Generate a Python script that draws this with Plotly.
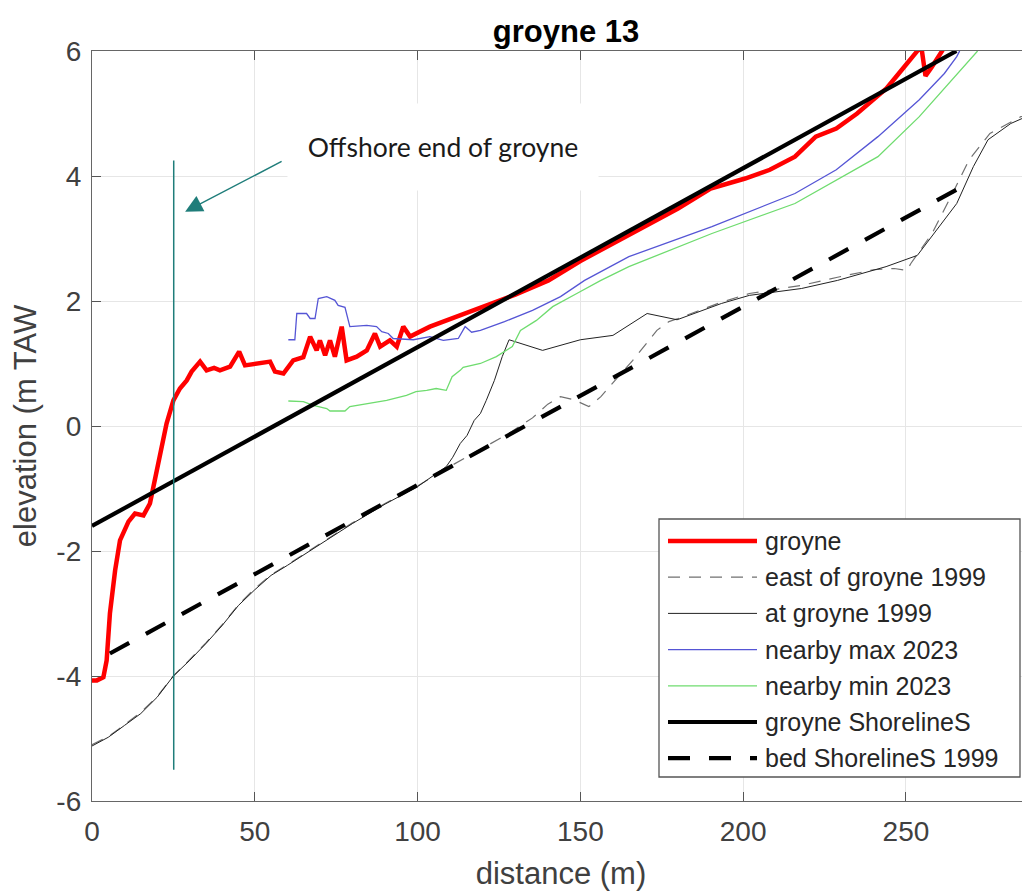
import plotly.graph_objects as go

# ---------------- data ----------------
GROYNE_X = [0, 1.5, 3.5, 4.5, 5.5, 7.1, 8.6, 11.2, 13.2, 15.8, 17.8, 19.3, 20.9, 22.9, 25.0,
            27.0, 29.1, 30.6, 33.2, 35.2, 37.5, 39.3, 42.4, 45.2, 47.0, 50.6, 54.7, 56.2, 58.8,
            61.8, 64.9, 67.0, 69.0, 70.0, 71.6, 73.1, 74.6, 76.7, 78.2, 81.3, 84.4, 86.9, 88.5,
            91.5, 93.6, 95.6, 97.7, 103.8, 108.9, 119.2, 130, 140.2, 150, 160, 170, 180, 190,
            200.6, 208.2, 215.9, 222.3, 228.6, 235.0, 241.4, 244, 247.8, 251.5, 253.5, 254.5,
            255.3, 256.0, 258.0, 261.1, 263.0]
GROYNE_Y = [-4.07, -4.07, -4.02, -3.75, -3.0, -2.31, -1.83, -1.53, -1.40, -1.43, -1.24, -0.87,
            -0.49, 0.04, 0.41, 0.60, 0.73, 0.87, 1.03, 0.89, 0.93, 0.89, 0.95, 1.19, 0.97, 1.00,
            1.03, 0.87, 0.84, 1.05, 1.10, 1.43, 1.21, 1.37, 1.13, 1.37, 1.11, 1.59, 1.05, 1.11,
            1.21, 1.48, 1.27, 1.37, 1.27, 1.59, 1.43, 1.59, 1.69, 1.90, 2.10, 2.33, 2.64, 2.92,
            3.20, 3.48, 3.80, 3.96, 4.10, 4.31, 4.63, 4.76, 5.00, 5.27, 5.40, 5.64, 5.86, 6.0,
            6.15, 5.9, 5.6, 5.75, 6.0, 6.2]

EAST_X = [0, 5, 10, 15, 20, 25, 30, 35, 40, 45, 50, 55, 60, 70, 80, 90, 100, 108.8, 115, 122,
          128, 135.3, 140, 143.9, 148, 152.6, 156.3, 161, 166.1, 173.5, 177.2, 180, 193.3, 201.9,
          217.9, 229, 240, 246.4, 250.3, 251.5, 258, 264.3, 269.4, 275.8, 279.6, 285.3, 288.3]
EAST_Y = [-5.10, -4.97, -4.78, -4.58, -4.33, -4.0, -3.74, -3.47, -3.18, -2.86, -2.60, -2.38,
          -2.22, -1.89, -1.55, -1.24, -0.96, -0.68, -0.50, -0.30, -0.12, 0.13, 0.35, 0.47, 0.42,
          0.31, 0.47, 0.75, 1.05, 1.53, 1.67, 1.72, 1.98, 2.12, 2.25, 2.38, 2.50, 2.52, 2.49,
          2.60, 3.08, 3.72, 4.26, 4.68, 4.79, 4.95, 4.98]

AT_X = [0, 5, 10, 15, 20, 25, 30, 35, 40, 45, 50, 55, 60, 70, 80, 90, 100, 108.8, 110.8, 113.1,
        115.2, 117.4, 119.3, 121.1, 123.6, 126.0, 128.1, 138.4, 150, 160.0, 170.5, 179.7, 193.3,
        201.9, 217.9, 229, 243.9, 253.5, 259.2, 265.6, 270.7, 275.2, 282.2, 288.3]
AT_Y = [-5.12, -4.98, -4.79, -4.60, -4.34, -4.0, -3.75, -3.48, -3.19, -2.87, -2.62, -2.39, -2.23,
        -1.90, -1.56, -1.25, -0.97, -0.65, -0.50, -0.28, -0.15, 0.09, 0.20, 0.41, 0.73, 1.11,
        1.38, 1.21, 1.38, 1.45, 1.80, 1.70, 1.96, 2.09, 2.20, 2.33, 2.55, 2.73, 3.13, 3.56, 4.15,
        4.58, 4.84, 4.98]

MAX_X = [60.3, 62.3, 62.9, 65.9, 67.0, 68.5, 69.5, 72.1, 74.6, 75.6, 77.7, 79.2, 84.4, 87.4, 89.0,
         91.0, 92.5, 98.7, 103.8, 107.9, 112.5, 114.6, 116.6, 119.3, 126.7, 135.3, 143.9, 151.3,
         164.9, 190.4, 215.9, 228.6, 241.4, 254.1, 261.8, 265.6, 266.5]
MAX_Y = [1.38, 1.38, 1.80, 1.80, 1.72, 1.72, 2.04, 2.07, 2.01, 1.93, 1.90, 1.59, 1.61, 1.59, 1.51,
         1.48, 1.40, 1.38, 1.43, 1.37, 1.40, 1.59, 1.50, 1.53, 1.67, 1.85, 2.07, 2.33, 2.71, 3.19,
         3.72, 4.10, 4.63, 5.22, 5.64, 5.91, 6.0]

MIN_X = [60.3, 64.9, 68.0, 72.1, 73.1, 77.7, 79.2, 85.4, 90.5, 96.6, 99.5, 102.8, 105.7, 108.8,
         110.6, 113.1, 114.0, 119.3, 124.2, 129.1, 131.6, 136.5, 141.5, 148.9, 156.3, 164.9,
         190.4, 215.9, 241.4, 254.1, 264.3, 272]
MIN_Y = [0.40, 0.39, 0.33, 0.28, 0.24, 0.24, 0.31, 0.36, 0.41, 0.49, 0.55, 0.57, 0.60, 0.57, 0.79,
         0.89, 0.94, 1.00, 1.11, 1.27, 1.53, 1.69, 1.91, 2.12, 2.33, 2.55, 3.08, 3.56, 4.31, 4.95,
         5.54, 6.0]

SHORE_X = [0, 265.5]
SHORE_Y = [-1.6, 6.0]

BED_X = [5.5, 266.2]
BED_Y = [-3.64, 3.80]

GROYNE_END_X = [25.1, 25.1]
GROYNE_END_Y = [-5.5, 4.25]
ARROW_TIP = (28.6, 3.43)

X_TICKS = [0, 50, 100, 150, 200, 250]
Y_TICKS = [-6, -4, -2, 0, 2, 4, 6]

TITLE = "groyne 13"
X_LABEL = "distance (m)"
Y_LABEL = "elevation (m TAW"
NOTE = "Offshore end of groyne"

# ---------------- styles ----------------
# The page body adds an 8 px offset, so the figure is 8 px smaller than the window.
OFF = 8
W, H = 1030 - OFF, 892 - OFF
PLOT_L, PLOT_R, PLOT_T, PLOT_B = 92, 1030, 51, 801          # window pixel coords
L, R, T, B = PLOT_L - OFF, (1030 - PLOT_R), PLOT_T - OFF, 892 - PLOT_B
FONT = "Liberation Sans, Arial, sans-serif"
TEAL = "#1f7d7a"

series = [
    dict(name="groyne", x=GROYNE_X, y=GROYNE_Y, color="#ff0000", width=4.5, dash="solid"),
    dict(name="east of groyne 1999", x=EAST_X, y=EAST_Y, color="#707070", width=1.2, dash="12px,9px"),
    dict(name="at groyne 1999", x=AT_X, y=AT_Y, color="#222222", width=1.0, dash="solid"),
    dict(name="nearby max 2023", x=MAX_X, y=MAX_Y, color="#5555d5", width=1.3, dash="solid"),
    dict(name="nearby min 2023", x=MIN_X, y=MIN_Y, color="#6fdc6f", width=1.3, dash="solid"),
    dict(name="groyne ShorelineS", x=SHORE_X, y=SHORE_Y, color="#000000", width=4.2, dash="solid"),
    dict(name="bed ShorelineS 1999", x=BED_X, y=BED_Y, color="#000000", width=4.2, dash="22px,19px"),
]

fig = go.Figure()
for s in series:
    fig.add_trace(go.Scatter(x=s["x"], y=s["y"], mode="lines", name=s["name"],
                             line=dict(color=s["color"], width=s["width"], dash=s["dash"]),
                             showlegend=False))

fig.add_trace(go.Scatter(x=GROYNE_END_X, y=GROYNE_END_Y, mode="lines", showlegend=False,
                         line=dict(color=TEAL, width=1.5), name="offshore end"))


def px(xp):
    return (xp - PLOT_L) / (PLOT_R - PLOT_L)


def py(yp):
    return (PLOT_B - yp) / (PLOT_B - PLOT_T)


shapes = []
annotations = []

# legend box (manual, to get MATLAB-like long line samples)
shapes.append(dict(type="rect", xref="paper", yref="paper", x0=px(659), x1=px(1020),
                   y0=py(777), y1=py(519), line=dict(color="#555555", width=1.3),
                   fillcolor="white", layer="above"))
row0, step = 541, 36.2
for i, s in enumerate(series):
    yy = py(row0 + i * step)
    shapes.append(dict(type="line", xref="paper", yref="paper", x0=px(668), x1=px(757),
                       y0=yy, y1=yy, layer="above",
                       line=dict(color=s["color"], width=s["width"], dash=s["dash"])))
    annotations.append(dict(xref="paper", yref="paper", x=px(763), y=yy, text=s["name"],
                            showarrow=False, xanchor="left", yanchor="middle",
                            font=dict(family=FONT, size=25, color="#262626")))

# text box and arrow
annotations.append(dict(xref="paper", yref="paper", x=px(443), y=py(147), text=NOTE,
                        showarrow=False, xanchor="center", yanchor="middle",
                        width=308, height=84, bgcolor="white",
                        font=dict(family="Lato, Carlito, sans-serif", size=26.5, color="#1a1a1a")))
annotations.append(dict(x=ARROW_TIP[0], y=ARROW_TIP[1], xref="x", yref="y", text="",
                        showarrow=True, ax=98, ay=-51, axref="pixel", ayref="pixel",
                        arrowcolor=TEAL, arrowwidth=1.5, arrowhead=2, arrowsize=2.3))

fig.update_layout(
    width=W, height=H,
    margin=dict(l=L, r=R, t=T, b=B, autoexpand=False),
    paper_bgcolor="white", plot_bgcolor="white",
    font=dict(family=FONT, color="#262626"),
    title=dict(text="<b>" + TITLE + "</b>", x=px(566), xref="paper", xanchor="center",
               y=1 - (31 - OFF) / H, yanchor="middle",
               font=dict(family=FONT, size=31, color="#000000")),
    shapes=shapes,
    annotations=annotations,
    showlegend=False,
)

axis_common = dict(
    showline=True, linecolor="#666666", linewidth=1.3,
    ticks="inside", ticklen=9, tickwidth=1.2, tickcolor="#555555",
    showgrid=True, gridcolor="#e6e6e6", gridwidth=1,
    zeroline=False, automargin=False,
    tickfont=dict(family=FONT, size=28, color="#404040"),
)
fig.update_xaxes(range=[0, 288.1], tickvals=X_TICKS, ticktext=[str(v) for v in X_TICKS],
                 mirror="ticks", ticklabelstandoff=5,
                 title=dict(text=X_LABEL, font=dict(family=FONT, size=31, color="#404040"),
                            standoff=16),
                 **axis_common)
fig.update_yaxes(range=[-6, 6], tickvals=Y_TICKS, ticktext=[str(v) for v in Y_TICKS],
                 mirror=False, ticklabelstandoff=4,
                 title=dict(text=Y_LABEL, font=dict(family=FONT, size=31, color="#404040"),
                            standoff=11),
                 **axis_common)

fig.write_html("out.html")
